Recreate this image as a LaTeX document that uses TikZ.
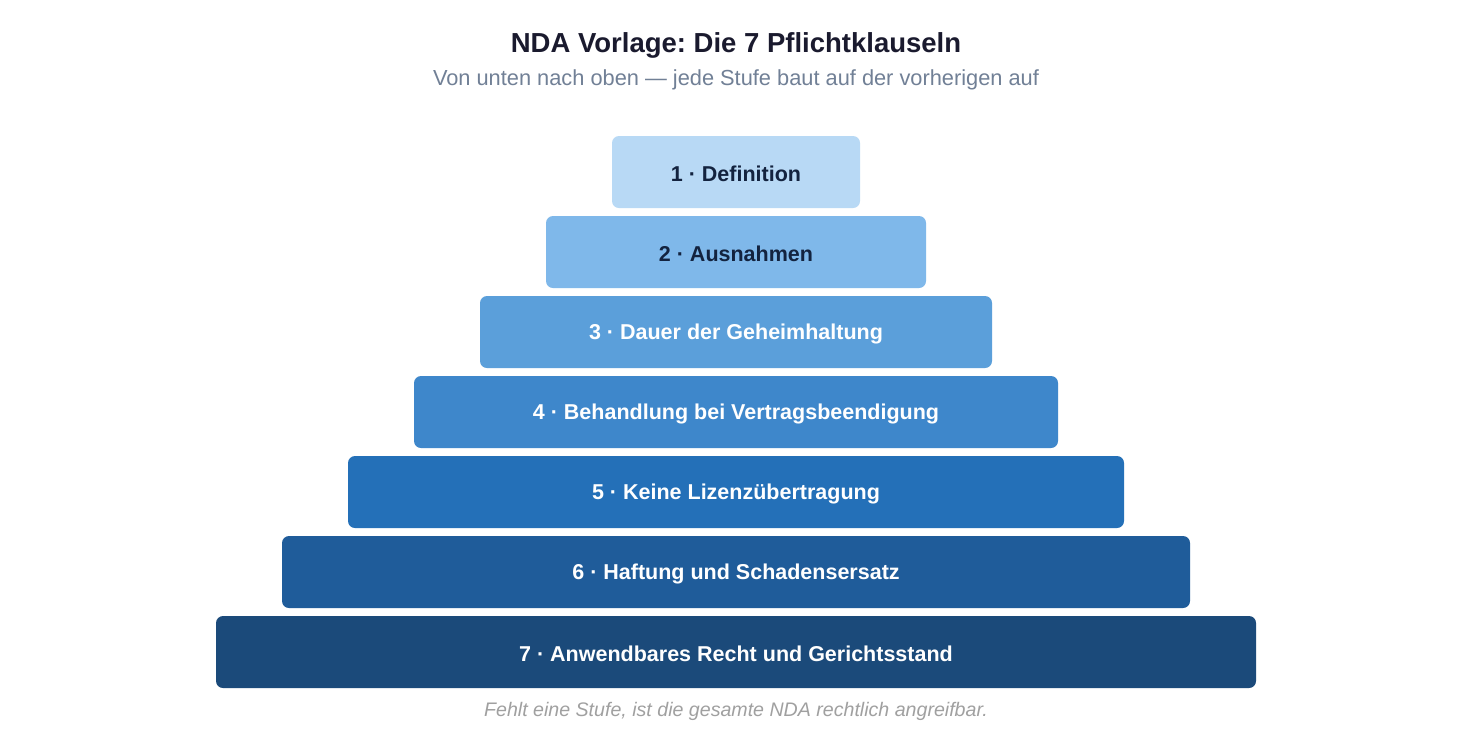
\documentclass[tikz,border=0pt]{standalone}
\usepackage{fontspec}
\setmainfont{Liberation Sans}
\begin{document}
\frenchspacing
\begin{tikzpicture}[x=1pt,y=-1pt,
  stepbox/.style={rounded corners=7pt, inner sep=0pt, minimum height=72pt},
  steplabel/.style={inner sep=0pt, font=\fontsize{21.5}{24}\selectfont\bfseries}]
\definecolor{c1}{HTML}{B8D9F5}
\definecolor{c2}{HTML}{7FB8EA}
\definecolor{c3}{HTML}{5B9FDA}
\definecolor{c4}{HTML}{3E87CB}
\definecolor{c5}{HTML}{2470B8}
\definecolor{c6}{HTML}{1F5C9A}
\definecolor{c7}{HTML}{1B4A7A}
\definecolor{darktxt}{HTML}{13233F}
\definecolor{titlec}{HTML}{1A1A2E}
\definecolor{subc}{HTML}{718096}
\definecolor{footc}{HTML}{A0A0A0}
\useasboundingbox (0,0) rectangle (1472,740);
\fill[white] (0,0) rectangle (1472,740);
\node[font=\fontsize{27.5}{30}\selectfont\bfseries, text=titlec] (title) at (736,45) {NDA Vorlage: Die 7 Pflichtklauseln};
\node[font=\fontsize{21.8}{24}\selectfont, text=subc] (sub) at (736,80) {Von unten nach oben — jede Stufe baut auf der vorherigen auf};
\foreach \i/\txt/\tc in {1/1 · Definition/darktxt, 2/2 · Ausnahmen/darktxt, 3/3 · Dauer der Geheimhaltung/white, 4/4 · Behandlung bei Vertragsbeendigung/white, 5/5 · Keine Lizenzübertragung/white, 6/6 · Haftung und Schadensersatz/white, 7/7 · Anwendbares Recht und Gerichtsstand/white}{
  \pgfmathsetmacro{\w}{248+132*(\i-1)}
  \pgfmathsetmacro{\yc}{172+80*(\i-1)}
  \node[stepbox, fill=c\i, minimum width=\w pt] (s\i) at (736,\yc) {};
  \node[steplabel, text=\tc] (l\i) at ([yshift=-2pt]s\i.center) {\txt};
}
\node[font=\fontsize{19.6}{22}\selectfont\itshape, text=footc] (foot) at (736,711) {Fehlt eine Stufe, ist die gesamte NDA rechtlich angreifbar.};
\end{tikzpicture}
\end{document}
